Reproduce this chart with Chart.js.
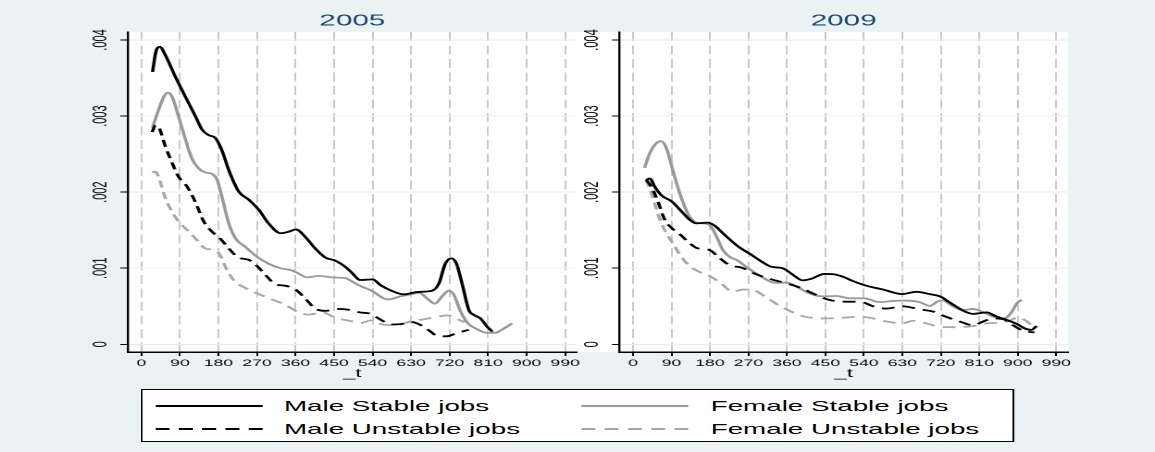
<!DOCTYPE html>
<html>
<head>
<meta charset="utf-8">
<script src="https://cdn.jsdelivr.net/npm/chart.js@4.4.1/dist/chart.umd.min.js"></script>
<style>
  html, body { margin: 0; padding: 0; }
  body { width: 1155px; height: 452px; overflow: hidden; background: #eaf2f3; position: relative; }
  /* the figure is laid out at 624px wide and stretched horizontally to 1155px */
  #stage { position: absolute; left: 0; top: 0; width: 624px; height: 452px;
           transform: scaleX(1.850962); transform-origin: 0 0; }
  #plotbg { position: absolute; left: 69px; top: 32px; width: 508px; height: 320px; background: #fff; }
  canvas { position: absolute; top: 0; }
  #c2005 { left: 0; }
  #c2009 { left: 312px; }
  #legend { position: absolute; left: 76.2px; top: 389px; width: 472.2px; height: 53px;
            box-sizing: border-box; border: 1px solid #000; background: #fff;
            font-family: 'Liberation Sans', Arial, Helvetica, sans-serif; font-size: 15px; color: #000; }
  .item { position: absolute; height: 20px; line-height: 20px; white-space: nowrap; }
  .item svg { position: absolute; left: 0; top: 0; }
  .item span { position: absolute; top: 0; }
</style>
</head>
<body>
<div id="stage">
  <div id="plotbg"></div>
  <canvas id="c2005" width="314" height="390"></canvas>
  <canvas id="c2009" width="312" height="390"></canvas>
  <div id="legend"></div>
</div>
<script>
// ---- axis ticks and panels ----
const panelTitles = ['2005', '2009'];
const xTickValues = [0, 90, 180, 270, 360, 450, 540, 630, 720, 810, 900, 990];
const yTickValues = [0, 0.001, 0.002, 0.003, 0.004];
const yTickLabels = ['0', '.001', '.002', '.003', '.004'];
const xAxisTitle = '_t';
const seriesLabels = ['Male Stable jobs', 'Female Stable jobs', 'Male Unstable jobs', 'Female Unstable jobs'];

// ---- smoothed hazard estimates, 2005 ----
const t05MaleStable = [26,34,43,56,79,103,126,142,157,173,188,204,227,251,274,297,325,344,361,383,406,430,453,476,489,512,540,558,582,613,644,679,695,710,724,736,749,765,777,792,808,820];
const v05MaleStable = [.00358,.00385,.00391,.00380,.00352,.00325,.00300,.00282,.00275,.00271,.00255,.00229,.00201,.00190,.00177,.00159,.00146,.00148,.00151,.00141,.00126,.00114,.00110,.00102,.000955,.000845,.000854,.00078,.00071,.000657,.000688,.000705,.00080,.00106,.00113,.00106,.00080,.00045,.000385,.00034,.00023,.000166];

const t05FemaleStable = [26,40,52,62,72,87,103,118,134,149,165,177,188,204,220,243,270,297,325,352,367,387,414,445,476,500,514,536,576,605,632,650,668,685,704,718,730,745,762,782,808,825,843,866];
const v05FemaleStable = [.00285,.00308,.00325,.00331,.00325,.00299,.00269,.00244,.00231,.00226,.00224,.00216,.00194,.00159,.00139,.00128,.00115,.00106,.00100,.00097,.00093,.00088,.00090,.00088,.00087,.00080,.00076,.00071,.00059,.00063,.00066,.000675,.00060,.000535,.00064,.000705,.00065,.00044,.00028,.000205,.00015,.00015,.000195,.000275];

const t05MaleUnstable = [25,33,40,56,72,87,107,126,146,165,184,204,227,251,270,290,313,336,360,383,406,430,458,484,510,536,560,585,605,629,650,670,692,712,738,765];
const v05MaleUnstable = [.00279,.00288,.00286,.00260,.00238,.00220,.00207,.00187,.00161,.00148,.00139,.00126,.00114,.00111,.00103,.00091,.00079,.00077,.00072,.00060,.00047,.00044,.000465,.000455,.00042,.00040,.00032,.00026,.000265,.000295,.00026,.00019,.00011,.000105,.00015,.00019];

const t05FemaleUnstable = [25,33,40,56,76,91,111,130,149,169,184,196,216,243,274,305,336,367,391,422,453,490,513,536,564,595,628,660,690,714,738,755];
const v05FemaleUnstable = [.00226,.00227,.00220,.00192,.00170,.00159,.00148,.00137,.00126,.00124,.00117,.00102,.00084,.00074,.00066,.00059,.00052,.00042,.00039,.00042,.00035,.000305,.00028,.000315,.00026,.00025,.00030,.00033,.00036,.00038,.00033,.00029];

// ---- smoothed hazard estimates, 2009 ----
const t09MaleStable = [31,39,51,66,90,113,132,148,175,191,214,245,276,300,323,350,370,397,416,448,471,490,515,546,585,630,663,694,718,741,773,796,827,850,874,897,916,932,944];
const v09MaleStable = [.00216,.00218,.00207,.00196,.00188,.00175,.00164,.00159,.00160,.00156,.00144,.00129,.00118,.00109,.00102,.00100,.00093,.00084,.00086,.000925,.00092,.00089,.00083,.00077,.00072,.00066,.00069,.00066,.00063,.00055,.00044,.00040,.00042,.000365,.00032,.00027,.00021,.00019,.00024];

const t09FemaleStable = [27,39,54,66,78,93,109,128,144,163,179,195,210,226,245,269,300,331,360,385,417,448,476,507,540,577,608,635,670,694,715,725,748,772,795,818,845,868,885,898,909];
const v09FemaleStable = [.00232,.00251,.00264,.00267,.00258,.00229,.00199,.00172,.00161,.00159,.00157,.00142,.00124,.00115,.00110,.00100,.00089,.00081,.00081,.00075,.00066,.00063,.000635,.000605,.000605,.000555,.00057,.000575,.000555,.000505,.00057,.000575,.00050,.00045,.000465,.000425,.00036,.00034,.00042,.00054,.000585];

const t09MaleUnstable = [31,43,58,74,90,109,128,152,179,199,226,253,284,323,360,393,424,455,490,531,562,593,630,671,702,733,764,796,819,842,866,889,912,939];
const v09MaleUnstable = [.00216,.00207,.00188,.00164,.00153,.00145,.00135,.00126,.00124,.00115,.00104,.00101,.00093,.000855,.00080,.00074,.00066,.00059,.00056,.00056,.00050,.00047,.00050,.00046,.00043,.00036,.00030,.00025,.00030,.00034,.00033,.00025,.00018,.000155];

const t09FemaleUnstable = [31,43,58,74,93,113,132,152,179,206,234,257,280,308,339,370,401,448,494,531,562,593,630,655,686,718,757,796,827,858,881,901,916,932];
const v09FemaleUnstable = [.00216,.00199,.00172,.00150,.00133,.00115,.00103,.00096,.00090,.00080,.00069,.00072,.000715,.00063,.00052,.00043,.000365,.00034,.00035,.000365,.00034,.00030,.000275,.00031,.000275,.00023,.000225,.00024,.000275,.000285,.00031,.000355,.00032,.000255];

// ---- styling ----
const FONT = "'Liberation Sans', Arial, Helvetica, sans-serif";
const X_MIN = -32, X_MAX = 1017.5;
const Y_MIN = -0.000101, Y_MAX = 0.0041052;
const seriesStyles = [
  { color: '#000000', dash: [] },          // Male Stable
  { color: '#999999', dash: [] },          // Female Stable
  { color: '#000000', dash: [7, 4.5] },    // Male Unstable
  { color: '#a8a8a8', dash: [7, 4.5] }     // Female Unstable
];
// dataset draw order: males on top of females
const drawOrder = [0, 2, 1, 3];

const panelTitlePlugin = {
  id: 'panelTitle',
  afterDraw(chart, args, opts) {
    const { ctx, chartArea } = chart;
    ctx.save();
    ctx.font = '16px ' + FONT;
    ctx.fillStyle = '#1a476f';
    ctx.textAlign = 'center';
    ctx.textBaseline = 'middle';
    ctx.fillText(opts.text, (chartArea.left + chartArea.right) / 2, 21);
    ctx.restore();
  }
};

function zeroPadding(s) { s.paddingLeft = 0; s.paddingRight = 0; s.paddingTop = 0; s.paddingBottom = 0; }

function buildPanel(canvasId, title, ts, vs, yAxisWidth, rightPad) {
  const datasets = drawOrder.map(k => ({
    label: seriesLabels[k],
    data: ts[k].map((t, i) => ({ x: t, y: vs[k][i] })),
    borderColor: seriesStyles[k].color,
    borderDash: seriesStyles[k].dash,
    borderWidth: 1.8,
    borderCapStyle: 'butt',
    borderJoinStyle: 'round',
    pointRadius: 0,
    fill: false,
    cubicInterpolationMode: 'monotone'
  }));
  return new Chart(document.getElementById(canvasId), {
    type: 'line',
    data: { datasets },
    options: {
      responsive: false,
      animation: false,
      devicePixelRatio: 2,
      layout: { padding: { left: 0, right: rightPad, top: 32, bottom: 0 } },
      plugins: {
        legend: { display: false },
        tooltip: { enabled: false },
        title: { display: false },
        panelTitle: { text: title }
      },
      scales: {
        x: {
          type: 'linear', min: X_MIN, max: X_MAX,
          afterBuildTicks: s => { s.ticks = xTickValues.map(v => ({ value: v })); },
          afterFit: s => { s.height = 38; zeroPadding(s); },
          ticks: { font: { family: FONT, size: 9.5 }, color: '#000', padding: 1.5,
                   maxRotation: 0, minRotation: 0, autoSkip: false, callback: v => String(v) },
          grid: { color: '#c9c9c9', lineWidth: 1, tickColor: '#000', tickLength: 4, tickWidth: 1, tickBorderDash: [] },
          border: { color: '#000', width: 1.5, dash: [9, 4.5] },
          title: { display: true, text: xAxisTitle, color: '#000',
                   font: { family: FONT, size: 12 }, padding: { top: 0, bottom: 9 } }
        },
        y: {
          type: 'linear', min: Y_MIN, max: Y_MAX,
          afterBuildTicks: s => { s.ticks = yTickValues.map(v => ({ value: v })); },
          afterFit: s => { s.width = yAxisWidth; zeroPadding(s); },
          ticks: { font: { family: FONT, size: 11 }, color: '#000', padding: 0,
                   minRotation: 90, maxRotation: 90, crossAlign: 'center',
                   callback: v => yTickLabels[yTickValues.indexOf(v)] },
          grid: { color: '#e5eeef', lineWidth: 1, tickColor: '#000', tickLength: 4, tickWidth: 1 },
          border: { color: '#000', width: 1.2 }
        }
      }
    },
    plugins: [panelTitlePlugin]
  });
}

buildPanel('c2005', panelTitles[0],
  [t05MaleStable, t05FemaleStable, t05MaleUnstable, t05FemaleUnstable],
  [v05MaleStable, v05FemaleStable, v05MaleUnstable, v05FemaleUnstable],
  69, 2.3);

buildPanel('c2009', panelTitles[1],
  [t09MaleStable, t09FemaleStable, t09MaleUnstable, t09FemaleUnstable],
  [v09MaleStable, v09FemaleStable, v09MaleUnstable, v09FemaleUnstable],
  22.6, 47);

// ---- legend: two columns, two rows ----
const legendSlots = [
  { k: 0, left: 6.5, top: 6 },
  { k: 1, left: 237.1, top: 6 },
  { k: 2, left: 6.5, top: 29 },
  { k: 3, left: 237.1, top: 29 }
];
const legend = document.getElementById('legend');
legendSlots.forEach(slot => {
  const st = seriesStyles[slot.k];
  const item = document.createElement('div');
  item.className = 'item';
  item.style.left = slot.left + 'px';
  item.style.top = slot.top + 'px';
  const dash = st.dash.length ? ' stroke-dasharray="7.6 5"' : '';
  item.innerHTML =
    '<svg width="58" height="20"><line x1="0" y1="10" x2="58" y2="10" stroke="' + st.color +
    '" stroke-width="2"' + dash + '/></svg>' +
    '<span style="left:69.7px">' + seriesLabels[slot.k] + '</span>';
  legend.appendChild(item);
});
</script>
</body>
</html>
